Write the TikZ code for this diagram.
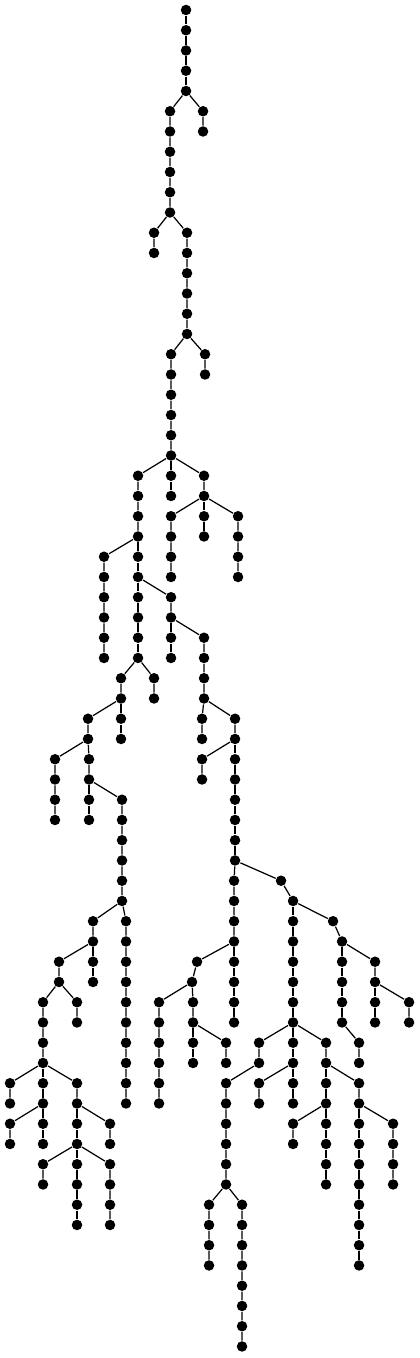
\documentclass[tikz,border=0pt]{standalone}
\usepackage{tikz}

\begin{document}
\begin{tikzpicture}[x=0.02cm, y=-0.405cm, line width=0.7pt, dot/.style={circle, fill=black, inner sep=0pt, minimum size=0.21cm}]
\useasboundingbox (0,-0.494) rectangle (419,66.57);

\node[dot] (t0) at (186,0) {};
\node[dot] (t1) at (186,1) {};
\node[dot] (t2) at (186,2) {};
\node[dot] (t3) at (186,3) {};
\node[dot] (t4) at (186,4) {};
\node[dot] (b5) at (203,5) {};
\node[dot] (b6) at (203,6) {};
\node[dot] (a5) at (170,5) {};
\node[dot] (a6) at (170,6) {};
\node[dot] (a7) at (170,7) {};
\node[dot] (a8) at (170,8) {};
\node[dot] (a9) at (170,9) {};
\node[dot] (a10) at (170,10) {};
\node[dot] (c11) at (154,11) {};
\node[dot] (c12) at (154,12) {};
\node[dot] (d11) at (187,11) {};
\node[dot] (d12) at (187,12) {};
\node[dot] (d13) at (187,13) {};
\node[dot] (d14) at (187,14) {};
\node[dot] (d15) at (187,15) {};
\node[dot] (d16) at (187,16) {};
\node[dot] (f17) at (205,17) {};
\node[dot] (f18) at (205,18) {};
\node[dot] (e17) at (171,17) {};
\node[dot] (e18) at (171,18) {};
\node[dot] (e19) at (171,19) {};
\node[dot] (e20) at (171,20) {};
\node[dot] (e21) at (171,21) {};
\node[dot] (e22) at (171,22) {};

\node[dot] (h23) at (171,23) {};
\node[dot] (h24) at (171,24) {};
\node[dot] (i23) at (204,23) {};
\node[dot] (i24) at (204,24) {};
\node[dot] (j25) at (171,25) {};
\node[dot] (j26) at (171,26) {};
\node[dot] (j27) at (171,27) {};
\node[dot] (j28) at (171,28) {};
\node[dot] (k25) at (204,25) {};
\node[dot] (k26) at (204,26) {};
\node[dot] (l25) at (238,25) {};
\node[dot] (l26) at (238,26) {};
\node[dot] (l27) at (238,27) {};
\node[dot] (l28) at (238,28) {};
\node[dot] (g23) at (138,23) {};
\node[dot] (g24) at (138,24) {};
\node[dot] (g25) at (138,25) {};
\node[dot] (g26) at (138,26) {};
\node[dot] (m27) at (104,27) {};
\node[dot] (m28) at (104,28) {};
\node[dot] (m29) at (104,29) {};
\node[dot] (m30) at (104,30) {};
\node[dot] (m31) at (104,31) {};
\node[dot] (m32) at (104,32) {};
\node[dot] (p27) at (138,27) {};
\node[dot] (p28) at (138,28) {};
\node[dot] (q29) at (138,29) {};
\node[dot] (q30) at (138,30) {};
\node[dot] (q31) at (138,31) {};
\node[dot] (q32) at (138,32) {};
\node[dot] (u33) at (154,33) {};
\node[dot] (u34) at (154,34) {};
\node[dot] (s33) at (121,33) {};
\node[dot] (s34) at (121,34) {};
\node[dot] (x35) at (121,35) {};
\node[dot] (x36) at (121,36) {};
\node[dot] (w35) at (88,35) {};
\node[dot] (w36) at (88,36) {};
\node[dot] (y37) at (55,37) {};
\node[dot] (y38) at (55,38) {};
\node[dot] (y39) at (55,39) {};
\node[dot] (y40) at (55,40) {};
\node[dot] (z37) at (89,37) {};
\node[dot] (z38) at (89,38) {};
\node[dot] (aa39) at (89,39) {};
\node[dot] (aa40) at (89,40) {};
\node[dot] (ab39) at (122,39) {};
\node[dot] (ab40) at (122,40) {};
\node[dot] (ab41) at (122,41) {};
\node[dot] (ab42) at (122,42) {};
\node[dot] (ab43) at (122,43) {};
\node[dot] (ab44) at (122,44) {};
\node[dot] (ad45) at (126,45) {};
\node[dot] (ad46) at (126,46) {};
\node[dot] (ad47) at (126,47) {};
\node[dot] (ad48) at (126,48) {};
\node[dot] (ad49) at (126,49) {};
\node[dot] (ad50) at (126,50) {};
\node[dot] (ad51) at (126,51) {};
\node[dot] (ad52) at (126,52) {};
\node[dot] (ad53) at (126,53) {};
\node[dot] (ad54) at (126,54) {};
\node[dot] (ac45) at (93,45) {};
\node[dot] (ac46) at (93,46) {};
\node[dot] (af47) at (93,47) {};
\node[dot] (af48) at (93,48) {};
\node[dot] (ae47) at (59,47) {};
\node[dot] (ae48) at (59,48) {};
\node[dot] (ah49) at (77,49) {};
\node[dot] (ah50) at (77,50) {};
\node[dot] (ag49) at (43,49) {};
\node[dot] (ag50) at (43,50) {};
\node[dot] (ag51) at (43,51) {};
\node[dot] (ag52) at (43,52) {};
\node[dot] (ai53) at (10,53) {};
\node[dot] (ai54) at (10,54) {};
\node[dot] (aj53) at (43,53) {};
\node[dot] (aj54) at (43,54) {};
\node[dot] (al55) at (10,55) {};
\node[dot] (al56) at (10,56) {};
\node[dot] (am55) at (43,55) {};
\node[dot] (am56) at (43,56) {};
\node[dot] (ak53) at (77,53) {};
\node[dot] (ak54) at (77,54) {};
\node[dot] (ao55) at (110,55) {};
\node[dot] (ao56) at (110,56) {};
\node[dot] (an55) at (77,55) {};
\node[dot] (an56) at (77,56) {};
\node[dot] (ap57) at (43,57) {};
\node[dot] (ap58) at (43,58) {};
\node[dot] (aq57) at (77,57) {};
\node[dot] (aq58) at (77,58) {};
\node[dot] (aq59) at (77,59) {};
\node[dot] (aq60) at (77,60) {};
\node[dot] (ar57) at (110,57) {};
\node[dot] (ar58) at (110,58) {};
\node[dot] (ar59) at (110,59) {};
\node[dot] (ar60) at (110,60) {};

\node[dot] (r29) at (171,29) {};
\node[dot] (r30) at (171,30) {};
\node[dot] (ba31) at (171,31) {};
\node[dot] (ba32) at (171,32) {};
\node[dot] (bb31) at (204,31) {};
\node[dot] (bb32) at (204,32) {};
\node[dot] (bb33) at (204,33) {};
\node[dot] (bb34) at (204,34) {};
\node[dot] (bc35) at (202,35) {};
\node[dot] (bc36) at (202,36) {};
\node[dot] (bd35) at (235,35) {};
\node[dot] (bd36) at (235,36) {};
\node[dot] (be37) at (202,37) {};
\node[dot] (be38) at (202,38) {};
\node[dot] (bf37) at (235,37) {};
\node[dot] (bf38) at (235,38) {};
\node[dot] (bf39) at (235,39) {};
\node[dot] (bf40) at (235,40) {};
\node[dot] (bf41) at (235,41) {};
\node[dot] (bf42) at (235,42) {};
\node[dot] (bg43) at (234,43) {};
\node[dot] (bg44) at (234,44) {};
\node[dot] (bg45) at (234,45) {};
\node[dot] (bg46) at (234,46) {};
\node[dot] (bj47) at (234,47) {};
\node[dot] (bj48) at (234,48) {};
\node[dot] (bj49) at (234,49) {};
\node[dot] (bj50) at (234,50) {};
\node[dot] (bi47) at (197,47) {};
\node[dot] (bi48) at (192,48) {};
\node[dot] (bk49) at (159,49) {};
\node[dot] (bk50) at (159,50) {};
\node[dot] (bk51) at (159,51) {};
\node[dot] (bk52) at (159,52) {};
\node[dot] (bk53) at (159,53) {};
\node[dot] (bk54) at (159,54) {};
\node[dot] (bl49) at (193,49) {};
\node[dot] (bl50) at (193,50) {};
\node[dot] (bm51) at (193,51) {};
\node[dot] (bm52) at (193,52) {};
\node[dot] (bn51) at (226,51) {};
\node[dot] (bn52) at (226,52) {};

\node[dot] (bh43) at (281,43) {};
\node[dot] (bh44) at (293,44) {};
\node[dot] (bo45) at (293,45) {};
\node[dot] (bo46) at (293,46) {};
\node[dot] (bo47) at (293,47) {};
\node[dot] (bo48) at (293,48) {};
\node[dot] (bo49) at (293,49) {};
\node[dot] (bo50) at (293,50) {};
\node[dot] (bq51) at (259,51) {};
\node[dot] (bq52) at (259,52) {};
\node[dot] (bt53) at (226,53) {};
\node[dot] (bt54) at (226,54) {};
\node[dot] (bt55) at (226,55) {};
\node[dot] (bt56) at (226,56) {};
\node[dot] (bt57) at (226,57) {};
\node[dot] (bt58) at (226,58) {};
\node[dot] (bu59) at (209,59) {};
\node[dot] (bu60) at (209,60) {};
\node[dot] (bu61) at (209,61) {};
\node[dot] (bu62) at (209,62) {};
\node[dot] (bv59) at (242,59) {};
\node[dot] (bv60) at (242,60) {};
\node[dot] (bv61) at (242,61) {};
\node[dot] (bv62) at (242,62) {};
\node[dot] (bv63) at (242,63) {};
\node[dot] (bv64) at (242,64) {};
\node[dot] (bv65) at (242,65) {};
\node[dot] (bv66) at (242,66) {};
\node[dot] (br51) at (293,51) {};
\node[dot] (br52) at (293,52) {};
\node[dot] (bw53) at (259,53) {};
\node[dot] (bw54) at (259,54) {};
\node[dot] (bx53) at (293,53) {};
\node[dot] (bx54) at (293,54) {};
\node[dot] (bs51) at (326,51) {};
\node[dot] (bs52) at (326,52) {};
\node[dot] (by53) at (326,53) {};
\node[dot] (by54) at (326,54) {};
\node[dot] (ca55) at (293,55) {};
\node[dot] (ca56) at (293,56) {};
\node[dot] (cb55) at (326,55) {};
\node[dot] (cb56) at (326,56) {};
\node[dot] (cb57) at (326,57) {};
\node[dot] (cb58) at (326,58) {};
\node[dot] (bz53) at (359,53) {};
\node[dot] (bz54) at (359,54) {};
\node[dot] (cc55) at (359,55) {};
\node[dot] (cc56) at (359,56) {};
\node[dot] (cc57) at (359,57) {};
\node[dot] (cc58) at (359,58) {};
\node[dot] (cc59) at (359,59) {};
\node[dot] (cc60) at (359,60) {};
\node[dot] (cc61) at (359,61) {};
\node[dot] (cc62) at (359,62) {};
\node[dot] (cd55) at (393,55) {};
\node[dot] (cd56) at (393,56) {};
\node[dot] (cd57) at (393,57) {};
\node[dot] (cd58) at (393,58) {};
\node[dot] (bp45) at (333,45) {};
\node[dot] (bp46) at (342,46) {};
\node[dot] (ce47) at (342,47) {};
\node[dot] (ce48) at (342,48) {};
\node[dot] (ce49) at (342,49) {};
\node[dot] (ce50) at (342,50) {};
\node[dot] (cg51) at (359,51) {};
\node[dot] (cg52) at (359,52) {};
\node[dot] (cf47) at (375,47) {};
\node[dot] (cf48) at (375,48) {};
\node[dot] (ch49) at (375,49) {};
\node[dot] (ch50) at (375,50) {};
\node[dot] (ci49) at (409,49) {};
\node[dot] (ci50) at (409,50) {};

\draw (t0) -- (t1) -- (t2) -- (t3) -- (t4);
\draw (t4) -- (b5) -- (b6);
\draw (t4) -- (a5) -- (a6) -- (a7) -- (a8) -- (a9) -- (a10);
\draw (a10) -- (c11) -- (c12);
\draw (a10) -- (d11) -- (d12) -- (d13) -- (d14) -- (d15) -- (d16);
\draw (d16) -- (f17) -- (f18);
\draw (d16) -- (e17) -- (e18) -- (e19) -- (e20) -- (e21) -- (e22);
\draw (e22) -- (g23) -- (g24) -- (g25) -- (g26);
\draw (e22) -- (h23) -- (h24);
\draw (e22) -- (i23) -- (i24);
\draw (i24) -- (j25) -- (j26) -- (j27) -- (j28);
\draw (i24) -- (k25) -- (k26);
\draw (i24) -- (l25) -- (l26) -- (l27) -- (l28);
\draw (g26) -- (m27) -- (m28) -- (m29) -- (m30) -- (m31) -- (m32);
\draw (g26) -- (p27) -- (p28);
\draw (p28) -- (q29) -- (q30) -- (q31) -- (q32);
\draw (p28) -- (r29) -- (r30);
\draw (q32) -- (s33) -- (s34);
\draw (q32) -- (u33) -- (u34);
\draw (s34) -- (w35) -- (w36);
\draw (s34) -- (x35) -- (x36);
\draw (w36) -- (y37) -- (y38) -- (y39) -- (y40);
\draw (w36) -- (z37) -- (z38);
\draw (z38) -- (aa39) -- (aa40);
\draw (z38) -- (ab39) -- (ab40) -- (ab41) -- (ab42) -- (ab43) -- (ab44);
\draw (ab44) -- (ac45) -- (ac46);
\draw (ab44) -- (ad45) -- (ad46) -- (ad47) -- (ad48) -- (ad49) -- (ad50) -- (ad51) -- (ad52) -- (ad53) -- (ad54);
\draw (ac46) -- (ae47) -- (ae48);
\draw (ac46) -- (af47) -- (af48);
\draw (ae48) -- (ag49) -- (ag50) -- (ag51) -- (ag52);
\draw (ae48) -- (ah49) -- (ah50);
\draw (ag52) -- (ai53) -- (ai54);
\draw (ag52) -- (aj53) -- (aj54);
\draw (ag52) -- (ak53) -- (ak54);
\draw (aj54) -- (al55) -- (al56);
\draw (aj54) -- (am55) -- (am56);
\draw (ak54) -- (an55) -- (an56);
\draw (ak54) -- (ao55) -- (ao56);
\draw (an56) -- (ap57) -- (ap58);
\draw (an56) -- (aq57) -- (aq58) -- (aq59) -- (aq60);
\draw (an56) -- (ar57) -- (ar58) -- (ar59) -- (ar60);

\draw (r30) -- (ba31) -- (ba32);
\draw (r30) -- (bb31) -- (bb32) -- (bb33) -- (bb34);
\draw (bb34) -- (bc35) -- (bc36);
\draw (bb34) -- (bd35) -- (bd36);
\draw (bd36) -- (be37) -- (be38);
\draw (bd36) -- (bf37) -- (bf38) -- (bf39) -- (bf40) -- (bf41) -- (bf42);
\draw (bf42) -- (bg43) -- (bg44) -- (bg45) -- (bg46);
\draw (bf42) -- (bh43) -- (bh44);
\draw (bg46) -- (bi47) -- (bi48);
\draw (bg46) -- (bj47) -- (bj48) -- (bj49) -- (bj50);
\draw (bi48) -- (bk49) -- (bk50) -- (bk51) -- (bk52) -- (bk53) -- (bk54);
\draw (bi48) -- (bl49) -- (bl50);
\draw (bl50) -- (bm51) -- (bm52);
\draw (bl50) -- (bn51) -- (bn52);
\draw (bh44) -- (bo45) -- (bo46) -- (bo47) -- (bo48) -- (bo49) -- (bo50);
\draw (bh44) -- (bp45) -- (bp46);
\draw (bo50) -- (bq51) -- (bq52);
\draw (bo50) -- (br51) -- (br52);
\draw (bo50) -- (bs51) -- (bs52);
\draw (bq52) -- (bt53) -- (bt54) -- (bt55) -- (bt56) -- (bt57) -- (bt58);
\draw (bt58) -- (bu59) -- (bu60) -- (bu61) -- (bu62);
\draw (bt58) -- (bv59) -- (bv60) -- (bv61) -- (bv62) -- (bv63) -- (bv64) -- (bv65) -- (bv66);
\draw (br52) -- (bw53) -- (bw54);
\draw (br52) -- (bx53) -- (bx54);
\draw (bs52) -- (by53) -- (by54);
\draw (bs52) -- (bz53) -- (bz54);
\draw (by54) -- (ca55) -- (ca56);
\draw (by54) -- (cb55) -- (cb56) -- (cb57) -- (cb58);
\draw (bz54) -- (cc55) -- (cc56) -- (cc57) -- (cc58) -- (cc59) -- (cc60) -- (cc61) -- (cc62);
\draw (bz54) -- (cd55) -- (cd56) -- (cd57) -- (cd58);
\draw (bp46) -- (ce47) -- (ce48) -- (ce49) -- (ce50);
\draw (bp46) -- (cf47) -- (cf48);
\draw (ce50) -- (cg51) -- (cg52);
\draw (cf48) -- (ch49) -- (ch50);
\draw (cf48) -- (ci49) -- (ci50);

\end{tikzpicture}
\end{document}
